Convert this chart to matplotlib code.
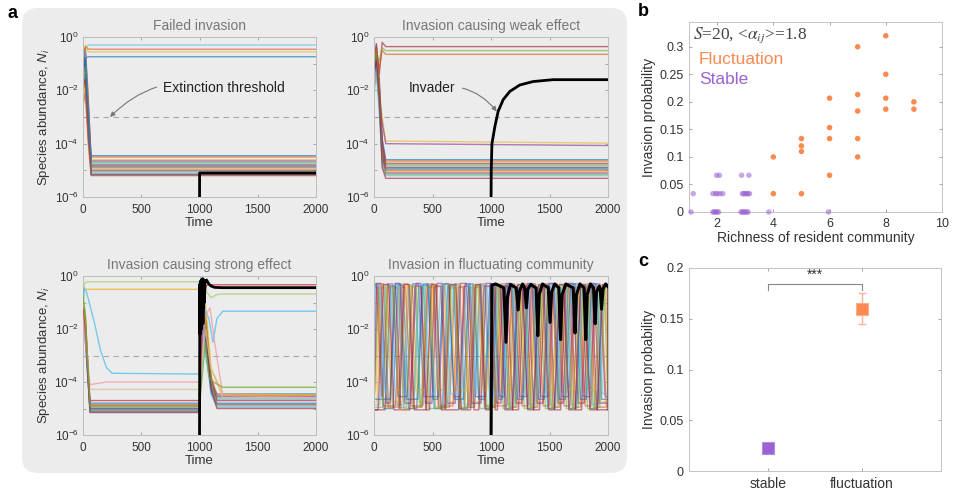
import matplotlib
matplotlib.use("Agg")
import numpy as np
import matplotlib.pyplot as plt
from matplotlib.patches import FancyBboxPatch
from matplotlib.transforms import IdentityTransform
from matplotlib.ticker import FixedLocator, NullFormatter, FixedFormatter

# ---------------------------------------------------------------- data
MATLAB = ['#0072BD', '#D95319', '#EDB120', '#7E2F8E', '#77AC30', '#4DBEEE', '#A2142F']
THRESHOLD = 1e-3
PANEL_TITLES = ['Failed invasion', 'Invasion causing weak effect',
                'Invasion causing strong effect', 'Invasion in fluctuating community']

# a1: failed invasion (log10 abundance at times A1_T)
A1_T = [0, 20, 45, 70, 2000]
A1_LOG = [
    [-1.2, -0.45, -0.3, -0.3, -0.3],
    [-1.0, -0.35, -0.45, -0.46, -0.46],
    [-0.8, -0.3, -0.55, -0.56, -0.56],
    [-1.5, -0.8, -0.74, -0.74, -0.74],
    [-1.8, -1.0, -2.6, -4.45, -4.45],
    [-1.3, -0.7, -3.0, -4.5, -4.5],
    [-2.2, -1.5, -3.2, -4.6, -4.6],
    [-0.9, -0.5, -2.4, -4.65, -4.65],
    [-1.6, -1.2, -3.5, -4.7, -4.7],
    [-2.5, -2.0, -3.8, -4.75, -4.75],
    [-1.1, -0.6, -2.8, -4.8, -4.8],
    [-1.9, -1.4, -3.3, -4.85, -4.85],
    [-0.7, -0.4, -2.2, -4.9, -4.9],
    [-2.3, -1.7, -3.6, -4.95, -4.95],
    [-1.4, -0.9, -3.0, -5.0, -5.0],
    [-1.7, -1.1, -3.4, -5.05, -5.05],
    [-1.0, -0.5, -2.6, -5.1, -5.1],
    [-2.0, -1.6, -3.7, -5.15, -5.15],
    [-1.2, -0.8, -2.9, -5.18, -5.18],
    [-2.6, -2.1, -4.0, -5.2, -5.2],
]
A1_COL = [5, 1, 2, 0, 0, 1, 2, 3, 4, 5, 6, 0, 1, 2, 3, 4, 5, 6, 0, 1]
A1_INV_T = [1000, 1001, 2000]
A1_INV_LOG = [-6.5, -5.1, -5.1]

# a2: weak effect
A2_T = [0, 20, 45, 70, 100, 2000]
A2_LOG = [
    [-1.3, -0.25, -1.4, -0.2, -0.36, -0.36],
    [-1.6, -0.6, -0.9, -0.4, -0.51, -0.51],
    [-1.0, -0.5, -1.2, -0.5, -0.65, -0.65],
    [-1.5, -0.9, -2.0, -3.0, -3.9, -3.98],
    [-2.0, -1.2, -2.5, -3.2, -4.0, -4.07],
    [-1.4, -0.6, -1.8, -3.8, -4.6, -4.6],
    [-1.1, -0.4, -2.2, -4.0, -4.65, -4.65],
    [-1.9, -1.0, -2.5, -4.2, -4.7, -4.7],
    [-0.9, -0.3, -1.6, -3.9, -4.75, -4.75],
    [-1.6, -0.8, -2.0, -4.3, -4.8, -4.8],
    [-2.2, -1.3, -2.8, -4.5, -4.85, -4.85],
    [-1.3, -0.5, -1.9, -4.1, -4.9, -4.9],
    [-1.7, -0.9, -2.4, -4.4, -4.95, -4.95],
    [-1.0, -0.4, -1.7, -4.2, -5.0, -5.0],
    [-2.0, -1.2, -2.6, -4.6, -5.05, -5.05],
    [-1.5, -0.7, -2.1, -4.5, -5.1, -5.1],
    [-1.2, -0.5, -2.0, -4.7, -5.15, -5.15],
    [-1.8, -1.1, -2.7, -4.8, -5.2, -5.2],
    [-1.4, -0.9, -2.3, -4.9, -5.3, -5.3],
]
A2_COL = [6, 4, 1, 2, 3, 0, 1, 2, 3, 4, 5, 6, 0, 1, 2, 3, 4, 5, 6]
A2_INV_T = [1000, 1002, 1008, 1033, 1061, 1104, 1161, 1246, 1360, 1531, 2000]
A2_INV_LOG = [-6.5, -5.0, -4.0, -3.36, -2.79, -2.35, -2.04, -1.8, -1.67, -1.6, -1.6]

# a3: strong effect -- species with individual trajectories
A3_SP_T = [
    [0, 10, 30, 1000, 1030, 1060, 1100, 1150, 1200, 2000],
    [0, 10, 30, 1000, 1030, 1060, 1100, 1200, 2000],
    [0, 8, 30, 100, 150, 200, 250, 1000, 1040, 1080, 1115, 1150, 1200, 2000],
    [0, 20, 60, 200, 1000, 1050, 1090, 1130, 1200, 2000],
    [0, 20, 60, 1000, 1050, 1100, 1200, 2000],
    [0, 20, 60, 1000, 1030, 1060, 1100, 2000],
    [0, 20, 60, 1000, 1050, 1080, 1120, 1200, 2000],
]
A3_SP_LOG = [
    [-1.5, -0.3, -0.22, -0.22, -0.15, -0.6, -0.82, -0.7, -0.68, -0.68],
    [-1.0, -0.5, -0.5, -0.5, -0.3, -1.5, -3.5, -4.45, -4.5],
    [-1.3, -0.45, -0.6, -1.8, -2.8, -3.45, -3.67, -3.7, -1.2, -1.6, -2.5, -1.6, -1.33, -1.33],
    [-1.5, -2.5, -4.1, -4.0, -4.0, -1.5, -1.2, -2.5, -4.5, -4.6],
    [-1.0, -2.0, -4.28, -4.28, -2.0, -3.5, -4.6, -4.6],
    [-1.2, -2.0, -4.7, -4.7, -1.0, -0.35, -0.33, -0.33],
    [-0.8, -1.5, -4.9, -4.9, -2.5, -3.8, -4.0, -4.2, -4.2],
]
A3_SP_COL = ['#A9CC6E', '#EDB120', '#4DBEEE', '#F09AA8', '#D8C29A', '#C8323F', '#77AC30']
A3_EX_T = [0, 20, 60, 1000, 1030, 1060, 1100, 1150, 2000]
A3_EX_LOG = [
    [-1.2, -1.8, -4.8, -4.8, -1.5, -2.5, -4.0, -4.45, -4.45],
    [-0.9, -1.5, -4.85, -4.85, -1.0, -2.0, -3.8, -4.5, -4.5],
    [-1.6, -2.2, -4.9, -4.9, -2.0, -3.0, -4.2, -4.55, -4.55],
    [-1.3, -2.0, -4.95, -4.95, -1.2, -2.2, -4.1, -4.6, -4.6],
    [-2.0, -2.5, -5.0, -5.0, -2.5, -3.2, -4.3, -4.65, -4.65],
    [-1.1, -1.7, -5.0, -5.0, -0.8, -1.8, -3.9, -4.7, -4.7],
    [-1.8, -2.3, -5.05, -5.05, -1.8, -2.8, -4.4, -4.8, -4.8],
    [-1.4, -1.9, -5.1, -5.1, -1.4, -2.4, -4.2, -4.85, -4.85],
    [-0.8, -1.4, -5.1, -5.1, -1.0, -2.0, -4.0, -4.9, -4.9],
    [-1.9, -2.4, -5.15, -5.15, -2.2, -3.0, -4.5, -4.95, -4.95],
    [-1.5, -2.1, -5.15, -5.15, -1.6, -2.6, -4.3, -5.0, -5.0],
]
A3_EX_COL = [0, 1, 3, 4, 5, 6, 0, 3, 4, 5, 6]
A3_INV_T = [1000, 1003, 1006, 1009, 1012, 1015, 1018, 1021, 1024, 1027, 1030, 1033,
            1036, 1039, 1042, 1046, 1050, 1060, 1080, 1100, 1130, 1200, 2000]
A3_INV_LOG = [-6.5, -0.3, -2.2, -0.2, -1.8, -0.15, -2.0, -0.2, -1.5, -0.1, -1.8, -0.2,
              -1.2, -0.15, -1.0, -0.3, -0.2, -0.15, -0.3, -0.38, -0.43, -0.44, -0.44]

# a4: fluctuating community -- time windows where each species is abundant
A4_EPISODES = [
    [(0, 40), (205, 250), (410, 470), (630, 680), (845, 900), (1050, 1085), (1225, 1265), (1405, 1440), (1590, 1625), (1770, 1805), (1950, 2000)],
    [(30, 80), (250, 290), (455, 505), (690, 730), (905, 950), (1085, 1120), (1265, 1300), (1445, 1485), (1630, 1665), (1810, 1845)],
    [(70, 110), (290, 330), (510, 600), (730, 770), (955, 1000), (1120, 1160), (1300, 1340), (1490, 1525), (1670, 1705), (1850, 1890)],
    [(0, 20), (115, 160), (330, 380), (600, 640), (780, 820), (1000, 1030), (1160, 1200), (1345, 1380), (1530, 1565), (1710, 1745), (1890, 1930)],
    [(40, 95), (160, 210), (380, 420), (640, 690), (820, 860), (1030, 1060), (1200, 1240), (1380, 1420), (1565, 1600), (1745, 1780), (1930, 1970)],
    [(95, 140), (300, 350), (470, 520), (680, 720), (900, 945), (1060, 1100), (1240, 1280), (1420, 1460), (1600, 1640), (1780, 1820), (1965, 2000)],
    [(140, 185), (350, 400), (520, 570), (770, 810), (940, 990), (1100, 1140), (1280, 1320), (1460, 1500), (1640, 1680), (1820, 1860)],
    [(185, 230), (420, 460), (590, 640), (810, 850), (990, 1020), (1140, 1180), (1320, 1360), (1500, 1540), (1680, 1720), (1860, 1900)],
    [(0, 30), (230, 270), (460, 510), (720, 760), (860, 905), (1180, 1220), (1360, 1400), (1540, 1580), (1720, 1760), (1900, 1940)],
    [(60, 100), (270, 310), (500, 540), (600, 650), (850, 890), (1010, 1050), (1210, 1250), (1390, 1430), (1575, 1610), (1755, 1790), (1940, 1980)],
    [(20, 60), (180, 220), (360, 400), (540, 580), (740, 790), (960, 1000), (1130, 1170), (1310, 1350), (1490, 1530), (1660, 1700), (1840, 1880)],
    [(120, 170), (320, 360), (440, 480), (660, 700), (880, 920), (1070, 1110), (1250, 1290), (1430, 1470), (1615, 1650), (1790, 1830), (1975, 2000)],
    [(10, 50), (150, 200), (390, 430), (570, 610), (790, 830), (920, 965), (1150, 1190), (1330, 1370), (1510, 1550), (1690, 1730), (1870, 1910)],
    [(80, 125), (260, 300), (490, 530), (650, 700), (870, 910), (1040, 1075), (1230, 1270), (1410, 1450), (1585, 1620), (1765, 1800), (1955, 1995)],
]
A4_FLOOR = [-5.0, -4.95, -4.75, -4.55, -5.0, -4.85, -5.05, -4.65, -4.9, -4.3, -4.8, -4.95, -4.45, -5.05]
A4_PEAK = [-0.35, -0.3, -0.4, -0.3, -0.45, -0.35, -0.38, -0.3, -0.42, -0.33, -0.28, -0.4, -0.36, -0.32]
A4_INV_T = [1000, 1008, 1040, 1110, 1128, 1140, 1165, 1215, 1232, 1245, 1270, 1288, 1302, 1315, 1340,
            1385, 1400, 1412, 1440, 1490, 1505, 1518, 1545, 1580, 1595, 1608, 1640, 1702, 1718, 1730,
            1760, 1795, 1810, 1822, 1850, 1876, 1890, 1902, 1925, 1932, 1945, 1957, 1980, 2000]
A4_INV_LOG = [-6.5, -0.35, -0.3, -0.45, -2.5, -0.8, -0.32, -0.45, -1.28, -0.55, -0.3, -0.45, -1.2, -0.5, -0.32,
              -0.45, -2.25, -0.7, -0.3, -0.45, -1.75, -0.6, -0.3, -0.45, -2.4, -0.7, -0.3, -0.45, -2.15, -0.7,
              -0.3, -0.45, -2.4, -0.7, -0.3, -0.45, -1.8, -0.6, -0.38, -0.45, -1.25, -0.5, -0.3, -0.4]

# b: invasion probability vs richness
STABLE_X = [1.07, 1.85, 1.9, 1.95, 2.0, 2.05, 2.85, 2.9, 2.95, 3.0, 3.05, 3.1, 3.84, 5.96,
            1.15, 1.85, 1.95, 2.0, 2.1, 2.2, 2.9, 2.95, 3.0, 3.05, 3.1, 3.15,
            1.98, 2.08, 2.87, 3.13]
STABLE_Y = [0] * 14 + [0.0333] * 12 + [0.0667] * 4
FLUCT_X = [4, 4, 5, 5, 5, 5, 6, 6, 6, 6, 7, 7, 7, 7, 7, 8, 8, 8, 8, 9, 9]
FLUCT_Y = [0.1, 0.0333, 0.1333, 0.12, 0.11, 0.0333, 0.2067, 0.1533, 0.1333, 0.0667,
           0.3, 0.2133, 0.1833, 0.1333, 0.1, 0.32, 0.25, 0.2067, 0.1867, 0.2, 0.1867]

# c: mean invasion probability
C_CATS = ['stable', 'fluctuation']
C_MEAN = [0.0224, 0.16]
C_ERR = [0.0, 0.015]

ORANGE = '#F98A50'
PURPLE = '#9A62D2'
FIG_W, FIG_H = 960, 491

# ---------------------------------------------------------------- style
plt.rcParams['font.family'] = ['Liberation Sans', 'DejaVu Sans']
plt.rcParams['mathtext.fontset'] = 'custom'
plt.rcParams['mathtext.rm'] = 'Liberation Sans'
plt.rcParams['mathtext.it'] = 'Liberation Sans:italic'
plt.rcParams['mathtext.bf'] = 'Liberation Sans:bold'

fig = plt.figure(figsize=(FIG_W / 100, FIG_H / 100), dpi=100)

# gray rounded box behind panel a
box = FancyBboxPatch((22, FIG_H - 473), 605, 465, boxstyle='round,pad=0,rounding_size=16',
                     transform=IdentityTransform(), facecolor='#ececec', edgecolor='none', zorder=-10)
fig.add_artist(box)


def px_axes(x0, y0, x1, y1):
    return fig.add_axes([x0 / FIG_W, 1 - y1 / FIG_H, (x1 - x0) / FIG_W, (y1 - y0) / FIG_H])


def style_a(ax, title, ylabel):
    ax.set_facecolor('none')
    ax.set_yscale('log')
    ax.set_xlim(0, 2000)
    ax.set_ylim(1e-6, 1)
    ax.set_xticks([0, 500, 1000, 1500, 2000])
    ax.yaxis.set_major_locator(FixedLocator([1e-6, 1e-4, 1e-2, 1]))
    ax.yaxis.set_minor_locator(FixedLocator([1e-5, 1e-3, 1e-1]))
    ax.yaxis.set_minor_formatter(NullFormatter())
    ax.tick_params(which='both', direction='in', top=True, right=True, length=2.5, width=0.6,
                   color='#999999', labelsize=8.5, labelcolor='#333333')
    ax.tick_params(axis='x', pad=5)
    ax.tick_params(axis='y', pad=3)
    for s in ax.spines.values():
        s.set_color('#bdbdbd')
        s.set_linewidth(0.7)
    ax.set_title(title, fontsize=10, color='#777777', pad=5)
    ax.set_xlabel('Time', fontsize=9.5, color='#333333', labelpad=1)
    if ylabel:
        ax.set_ylabel('Species abundance, $N_i$', fontsize=9.5, color='#333333', labelpad=2)
    ax.axhline(THRESHOLD, color='#a8a8a8', ls=(0, (5, 4)), lw=0.8, zorder=1)


def lines(ax, t, logs, colors, alpha=0.6, lw=1.0):
    for lg, c in zip(logs, colors):
        ax.plot(t, 10 ** np.array(lg), color=c, alpha=alpha, lw=lw, zorder=2)


ax1 = px_axes(83, 37, 316, 197)
ax2 = px_axes(374, 37, 608, 197)
ax3 = px_axes(83, 276, 316, 435)
ax4 = px_axes(374, 276, 608, 435)
style_a(ax1, PANEL_TITLES[0], True)
style_a(ax2, PANEL_TITLES[1], False)
style_a(ax3, PANEL_TITLES[2], True)
style_a(ax4, PANEL_TITLES[3], False)

# a1
lines(ax1, A1_T, A1_LOG, [MATLAB[i] for i in A1_COL])
ax1.plot(A1_INV_T, 10 ** np.array(A1_INV_LOG), color='black', lw=2.0, zorder=5)
ax1.annotate('Extinction threshold', xy=(232, 1e-3), xytext=(690, 10 ** -1.91),
             fontsize=10, color='#222222', va='center', ha='left',
             arrowprops=dict(arrowstyle='-|>', color='#777777', lw=0.8, mutation_scale=7,
                             connectionstyle='arc3,rad=0.3', shrinkA=3, shrinkB=0), zorder=6)

# a2
lines(ax2, A2_T, A2_LOG, [MATLAB[i] for i in A2_COL])
ax2.plot(A2_INV_T, 10 ** np.array(A2_INV_LOG), color='black', lw=2.0, zorder=5)
ax2.annotate('Invader', xy=(1049, 10 ** -2.79), xytext=(299, 10 ** -1.9),
             fontsize=10, color='#222222', va='center', ha='left',
             arrowprops=dict(arrowstyle='-|>', color='#777777', lw=0.8, mutation_scale=7,
                             connectionstyle='arc3,rad=-0.3', shrinkA=3, shrinkB=0), zorder=6)

# a3
lines(ax3, A3_EX_T, A3_EX_LOG, [MATLAB[i] for i in A3_EX_COL])
for t, lg, c in zip(A3_SP_T, A3_SP_LOG, A3_SP_COL):
    ax3.plot(t, 10 ** np.array(lg), color=c, alpha=0.75, lw=1.0, zorder=3)
ax3.plot(A3_INV_T, 10 ** np.array(A3_INV_LOG), color='black', lw=2.0, zorder=5)

# a4
RAMP = 45
for i, (eps, fl, pk) in enumerate(zip(A4_EPISODES, A4_FLOOR, A4_PEAK)):
    pts = []
    for (u, d) in eps:
        pts += [(u - RAMP, fl), (u, pk), (d, pk), (d + RAMP, fl)]
    pts.sort()
    t = np.clip([p[0] for p in pts], 0, 2000)
    v = [p[1] for p in pts]
    t = np.concatenate([[0], t, [2000]])
    v = np.concatenate([[v[0]], v, [v[-1]]])
    ax4.plot(t, 10 ** v, color=MATLAB[i % 7], alpha=0.55, lw=1.0, zorder=2)
ax4.plot(A4_INV_T, 10 ** np.array(A4_INV_LOG), color='black', lw=2.2, zorder=5)

# ---------------------------------------------------------------- b
def style_bc(ax):
    ax.tick_params(which='both', direction='in', top=True, right=True, length=2.5, width=0.6,
                   color='#999999', labelsize=9, labelcolor='#333333', pad=4)
    for s in ax.spines.values():
        s.set_color('#c4c4c4')
        s.set_linewidth(0.7)


axb = px_axes(689, 22, 942, 212)
style_bc(axb)
axb.scatter(STABLE_X, STABLE_Y, s=16, color=PURPLE, alpha=0.55, edgecolors='none', clip_on=False, zorder=3)
axb.scatter(FLUCT_X, FLUCT_Y, s=16, color=ORANGE, edgecolors='none', clip_on=False, zorder=4)
axb.set_xlim(1, 10)
axb.set_ylim(0, 0.345)
axb.set_xticks([2, 4, 6, 8, 10])
axb.yaxis.set_major_locator(FixedLocator([0, 0.05, 0.1, 0.15, 0.2, 0.25, 0.3]))
axb.yaxis.set_major_formatter(FixedFormatter(['0', '0.05', '0.1', '0.15', '0.2', '0.25', '0.3']))
axb.set_xlabel('Richness of resident community', fontsize=10, color='#333333', labelpad=1)
axb.set_ylabel('Invasion probability', fontsize=10, color='#333333', labelpad=2)
axb.text(0.016, 0.932, r'$S$=20, <$\alpha_{ij}$>=1.8', transform=axb.transAxes, fontsize=12.5,
         family=['Liberation Serif', 'DejaVu Serif'], math_fontfamily='stix', color='#444444',
         va='center', ha='left')
axb.text(0.04, 0.80, 'Fluctuation', transform=axb.transAxes, fontsize=12.5, color=ORANGE,
         va='center', ha='left')
axb.text(0.04, 0.695, 'Stable', transform=axb.transAxes, fontsize=12.5, color=PURPLE,
         va='center', ha='left')

# ---------------------------------------------------------------- c
axc = px_axes(689, 268, 941, 471)
style_bc(axc)
xc = [1, 2]
axc.errorbar([xc[1]], [C_MEAN[1]], yerr=[[C_ERR[1]], [C_ERR[1]]], fmt='none',
             ecolor='#FBB792', elinewidth=1.0, capsize=3, capthick=1.0, zorder=2)
axc.plot([xc[0]], [C_MEAN[0]], 's', ms=9, color=PURPLE, mec='#B48CE0', mew=0.8, zorder=3)
axc.plot([xc[1]], [C_MEAN[1]], 's', ms=9, color=ORANGE, mec='#FCB08A', mew=0.8, zorder=3)
axc.plot([1, 1, 2, 2], [0.1785, 0.1845, 0.1845, 0.1785], color='#888888', lw=0.8)
axc.text(1.5, 0.1865, '***', ha='center', va='bottom', fontsize=10, color='#333333')
axc.set_xlim(0.16, 2.84)
axc.set_ylim(0, 0.2)
axc.set_xticks(xc)
axc.set_xticklabels(C_CATS, fontsize=10)
axc.yaxis.set_major_locator(FixedLocator([0, 0.05, 0.1, 0.15, 0.2]))
axc.yaxis.set_major_formatter(FixedFormatter(['0', '0.05', '0.1', '0.15', '0.2']))
axc.set_ylabel('Invasion probability', fontsize=10, color='#333333', labelpad=2)

# panel letters
fig.text(8 / FIG_W, 1 - 14 / FIG_H, 'a', fontsize=13, weight='bold', va='center', ha='left')
fig.text(638 / FIG_W, 1 - 12 / FIG_H, 'b', fontsize=13, weight='bold', va='center', ha='left')
fig.text(638 / FIG_W, 1 - 262 / FIG_H, 'c', fontsize=13, weight='bold', va='center', ha='left')

fig.savefig('out.png', dpi=100, facecolor='white')
